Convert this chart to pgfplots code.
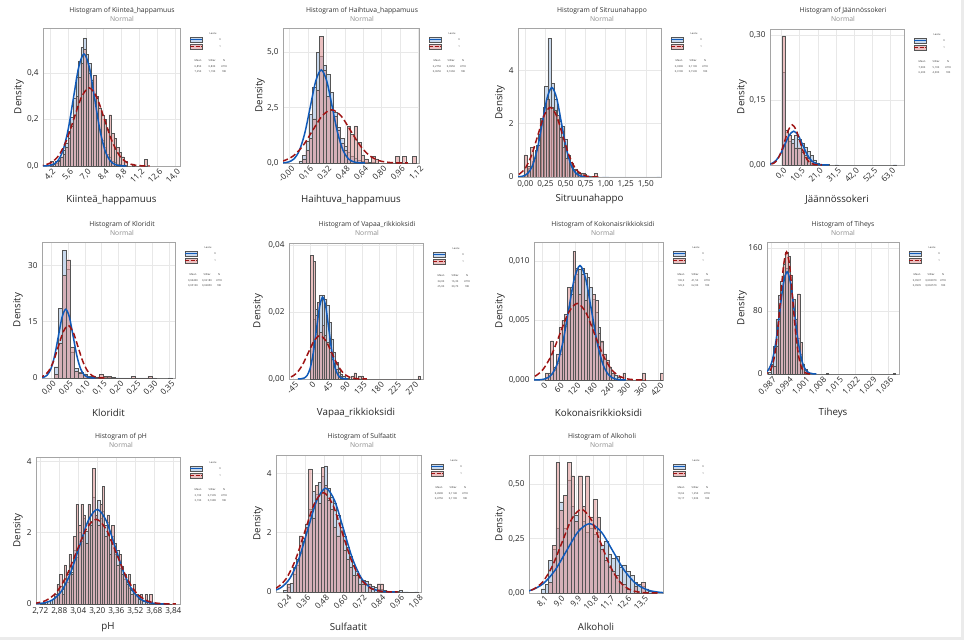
\documentclass[border=0pt]{standalone}
\usepackage{pgfplots}
\pgfplotsset{compat=1.18}
\usepackage{fontspec}
\setmainfont{Open Sans}
\definecolor{barblue}{RGB}{200,216,236}
\definecolor{barred}{RGB}{222,150,150}
\definecolor{baredge}{RGB}{85,85,85}
\definecolor{curveblue}{RGB}{16,90,185}
\definecolor{curvered}{RGB}{160,20,20}
\definecolor{gridc}{RGB}{232,232,232}
\definecolor{framec}{RGB}{165,165,165}
\newcommand\titlef{\fontsize{6.8}{7.5}\selectfont}
\newcommand\tickf{\fontsize{8.2}{9}\selectfont}
\newcommand\labf{\fontsize{9.8}{11}\selectfont}
\newcommand\legf{\fontsize{2.6}{3}\selectfont}
\pgfplotsset{
 hist/.style={scale only axis, anchor=north west, grid=major,
   grid style={draw=gridc, line width=0.5bp},
   axis line style={draw=framec, line width=0.7bp},
   major tick length=0pt, ymin=0, scaled y ticks=false, scaled x ticks=false,
   tick label style={font=\tickf, text=black!85},
   /pgf/number format/assume math mode=true,
   yticklabel style={xshift=-1bp}},
 rot/.style={xticklabel style={rotate=45, anchor=north east, inner sep=0.5bp, yshift=-2bp}},
 bblue/.style={ybar interval, fill=barblue, draw=baredge, line width=0.3bp},
 bred/.style={ybar interval, fill=barred, fill opacity=0.6, draw=baredge, line width=0.3bp},
 cblue/.style={smooth, draw=curveblue, line width=1.5bp},
 cred/.style={smooth, draw=curvered, line width=1.5bp, dash pattern=on 6bp off 3bp},
}
\newcommand\ptitle[3]{%
 \node[font=\titlef, text=black!80] at (#1bp,-#2bp) {Histogram of #3};
 \node[font=\titlef, text=black!45] at (#1bp,-#2bp-8bp) {Normal};}
\newcommand\plab[5]{%
 \node[font=\labf, text=black!85] at (#1bp,-#2bp) {#3};
 \node[font=\labf, text=black!85, rotate=90] at (#4bp,-#5bp) {Density};}
\newcommand\leg[8]{%
 \begin{scope}[shift={(#1bp,-#2bp)}, x=1bp, y=-1bp, every node/.style={font=\legf, text=black!80, inner sep=0pt}]
 \node at (33,6) {Laatu};
 \fill[barblue] (10,9) rectangle (22,14);
 \draw[baredge, line width=0.3bp] (10,9) rectangle (22,14);
 \draw[curveblue, line width=1bp] (10,11.5) -- (22,11.5);
 \fill[barred!60] (10,16) rectangle (22,21);
 \draw[baredge, line width=0.3bp] (10,16) rectangle (22,21);
 \draw[curvered, line width=1bp, dash pattern=on 4bp off 1.5bp] (10,18.5) -- (22,18.5);
 \node at (40,11.5) {0}; \node at (40,18.5) {1};
 \node at (18,33) {Mean}; \node at (32,33) {StDev}; \node at (44,33) {N};
 \node at (18,39) {#3}; \node at (32,39) {#4}; \node at (44,39) {#5};
 \node at (18,44) {#6}; \node at (32,44) {#7}; \node at (44,44) {#8};
 \end{scope}}
\begin{document}
\begin{tikzpicture}
\path[use as bounding box] (0,0) rectangle (964bp,-640bp);
\fill[white] (0,0) rectangle (964bp,-640bp);
\fill[black!8] (961bp,0) rectangle (964bp,-640bp);
\fill[black!8] (0,-637bp) rectangle (964bp,-640bp);

% ---------- P1 ----------
\begin{axis}[hist, rot, at={(43bp,-28bp)}, width=137bp, height=138bp,
 xmin=3.63, xmax=14.39, ymax=0.592,
 xtick={4.2,5.6,7.0,8.4,9.8,11.2,12.6,14.0},
 xticklabels={{4,2},{5,6},{7,0},{8,4},{9,8},{11,2},{12,6},{14,0}},
 ytick={0,0.2,0.4}, yticklabels={{0,0},{0,2},{0,4}}]
\addplot[bblue] coordinates {(4.2,0.005)(4.4,0.01)(4.6,0.012)(4.8,0.025)(5.0,0.04)(5.2,0.07)(5.4,0.10)(5.6,0.15)(5.8,0.21)(6.0,0.29)(6.2,0.38)(6.4,0.45)(6.6,0.51)(6.8,0.55)(7.0,0.48)(7.2,0.44)(7.4,0.37)(7.6,0.30)(7.8,0.22)(8.0,0.16)(8.2,0.11)(8.4,0.08)(8.6,0.05)(8.8,0.04)(9.0,0.02)(9.2,0.015)(9.4,0.01)(9.6,0.006)(9.8,0.004)(10.0,0.003)(10.2,0)};
\addplot[bred] coordinates {(4.2,0.02)(4.4,0)(4.6,0.02)(4.8,0.02)(5.0,0.04)(5.2,0.05)(5.4,0.08)(5.6,0.12)(5.8,0.17)(6.0,0.22)(6.2,0.3)(6.4,0.38)(6.6,0.44)(6.8,0.5)(7.0,0.46)(7.2,0.4)(7.4,0.36)(7.6,0.39)(7.8,0.3)(8.0,0.25)(8.2,0.22)(8.4,0.2)(8.6,0.16)(8.8,0.22)(9.0,0.14)(9.2,0.12)(9.4,0.08)(9.6,0.06)(9.8,0.04)(10.0,0.02)(10.2,0)(10.6,0.01)(10.8,0)(11.6,0.03)(11.8,0)};
\addplot[cblue] coordinates {(3.53,0.00014)(3.945,0.00106)(4.36,0.00534)(4.775,0.0211)(5.19,0.065)(5.605,0.1561)(6.02,0.2915)(6.435,0.4242)(6.85,0.4807)(7.265,0.4242)(7.68,0.2915)(8.095,0.1561)(8.51,0.065)(8.925,0.0211)(9.34,0.00534)(9.755,0.00106)(10.17,0.00014)};
\addplot[cred] coordinates {(2.49,0.0001)(3.085,0.00074)(3.68,0.00372)(4.275,0.01472)(4.87,0.04535)(5.465,0.1088)(6.06,0.2033)(6.655,0.2958)(7.25,0.3352)(7.845,0.2958)(8.44,0.2033)(9.035,0.1088)(9.63,0.04535)(10.225,0.01472)(10.82,0.00372)(11.415,0.00074)(12.01,0.0001)};
\end{axis}
\ptitle{122}{11}{Kiinteä\_happamuus}
\plab{111.5}{200}{Kiinteä\_happamuus}{19}{97}
\leg{180}{28}{6,850}{0,830}{4718}{7,250}{1,190}{180}

% ---------- P2 ----------
\begin{axis}[hist, rot, at={(283bp,-28bp)}, width=136bp, height=135bp,
 xmin=-0.058, xmax=1.126, ymax=6.09,
 xtick={0,0.16,0.32,0.48,0.64,0.80,0.96,1.12},
 xticklabels={{-0,00},{0,16},{0,32},{0,48},{0,64},{0,80},{0,96},{1,12}},
 ytick={0,2.5,5}, yticklabels={{0,0},{2,5},{5,0}}]
\addplot[bblue] coordinates {(0.08,0.1)(0.11,0.35)(0.14,1.0)(0.17,2.2)(0.20,3.4)(0.23,5.0)(0.26,4.8)(0.29,4.4)(0.32,4.0)(0.35,3.2)(0.38,2.3)(0.41,1.6)(0.44,1.1)(0.47,0.75)(0.50,0.5)(0.53,0.32)(0.56,0.2)(0.59,0.12)(0.62,0.08)(0.65,0.05)(0.68,0.03)(0.71,0.02)(0.74,0.01)(0.77,0)};
\addplot[bred] coordinates {(0.11,0.19)(0.14,0.56)(0.17,1.1)(0.20,2.0)(0.23,3.3)(0.26,5.7)(0.29,4.2)(0.32,3.0)(0.35,2.4)(0.38,2.1)(0.41,1.5)(0.44,0.9)(0.47,0.56)(0.50,1.67)(0.53,1.3)(0.56,1.67)(0.59,0.93)(0.62,0.37)(0.65,0.19)(0.68,0)(0.71,0.3)(0.74,0.19)(0.77,0)(0.92,0.3)(0.95,0)(0.98,0.3)(1.01,0)(1.07,0.3)(1.10,0)};
\addplot[cblue] coordinates {(-0.105,0.0013)(-0.0575,0.0092)(-0.01,0.0466)(0.0375,0.1843)(0.085,0.5681)(0.1325,1.3634)(0.18,2.5467)(0.2275,3.7056)(0.275,4.199)(0.3225,3.7056)(0.37,2.5467)(0.4175,1.3634)(0.465,0.5681)(0.5125,0.1843)(0.56,0.0466)(0.6075,0.0092)(0.655,0.0013)};
\addplot[cred] coordinates {(-0.299,0.0007)(-0.216,0.0053)(-0.133,0.0267)(-0.05,0.1055)(0.033,0.3251)(0.116,0.7803)(0.199,1.4574)(0.282,2.1206)(0.365,2.403)(0.448,2.1206)(0.531,1.4574)(0.614,0.7803)(0.697,0.3251)(0.78,0.1055)(0.863,0.0267)(0.946,0.0053)(1.029,0.0007)};
\end{axis}
\ptitle{362}{11}{Haihtuva\_happamuus}
\plab{351}{200}{Haihtuva\_happamuus}{260}{95.5}
\leg{419}{28}{0,2750}{0,0950}{4718}{0,3650}{0,1660}{180}

% ---------- P3 ----------
\begin{axis}[hist, at={(518bp,-28bp)}, width=143bp, height=149bp,
 xmin=-0.092, xmax=1.69, ymax=5.58,
 xtick={0,0.25,0.5,0.75,1.0,1.25,1.5},
 xticklabels={{0,00},{0,25},{0,50},{0,75},{1,00},{1,25},{1,50}},
 ytick={0,2,4}, yticklabels={0,2,4}]
\addplot[bblue] coordinates {(0.00,0.1)(0.04,0.35)(0.08,0.6)(0.12,1.0)(0.16,1.6)(0.20,2.2)(0.24,3.4)(0.28,5.2)(0.32,3.5)(0.36,2.9)(0.40,2.1)(0.44,1.9)(0.48,1.4)(0.52,0.8)(0.56,0.5)(0.60,0.3)(0.64,0.2)(0.68,0.15)(0.72,0.12)(0.76,0.05)(0.80,0.03)(0.84,0.02)(0.88,0.01)(0.92,0)(0.96,0.01)(1.00,0.01)(1.04,0)(1.64,0.01)(1.68,0)};
\addplot[bred] coordinates {(-0.02,0.83)(0.02,0.42)(0.06,1.1)(0.10,0.7)(0.14,1.2)(0.18,2.2)(0.22,2.6)(0.26,2.9)(0.30,2.6)(0.34,2.5)(0.38,2.3)(0.42,1.5)(0.46,1.1)(0.50,0.7)(0.54,0.56)(0.58,0.28)(0.62,0.14)(0.66,0.14)(0.70,0.14)(0.74,0)(0.86,0.14)(0.90,0)};
\addplot[cblue] coordinates {(-0.146,0.001)(-0.0865,0.0074)(-0.027,0.0372)(0.0325,0.1472)(0.092,0.4535)(0.1515,1.0884)(0.211,2.033)(0.2705,2.9581)(0.33,3.352)(0.3895,2.9581)(0.449,2.033)(0.5085,1.0884)(0.568,0.4535)(0.6275,0.1472)(0.687,0.0372)(0.7465,0.0074)(0.806,0.001)};
\addplot[cred] coordinates {(-0.302,0.0008)(-0.2255,0.0057)(-0.149,0.0289)(-0.0725,0.1144)(0.004,0.3527)(0.0805,0.8465)(0.157,1.5811)(0.2335,2.3007)(0.31,2.607)(0.3865,2.3007)(0.463,1.5811)(0.5395,0.8465)(0.616,0.3527)(0.6925,0.1144)(0.769,0.0289)(0.8455,0.0057)(0.922,0.0008)};
\end{axis}
\ptitle{602}{11}{Sitruunahappo}
\plab{589.5}{199}{Sitruunahappo}{500}{102.5}
\leg{661}{28}{0,3300}{0,1190}{4718}{0,3100}{0,1530}{180}

% ---------- P4 ----------
\begin{axis}[hist, rot, at={(770bp,-29bp)}, width=134bp, height=136bp,
 xmin=-6.7, xmax=70.9, ymax=0.3147,
 xtick={0,10.5,21,31.5,42,52.5,63},
 xticklabels={{0,0},{10,5},{21,0},{31,5},{42,0},{52,5},{63,0}},
 ytick={0,0.15,0.30}, yticklabels={{0,00},{0,15},{0,30}}]
\addplot[bblue] coordinates {(0.3,0.215)(2.1,0.06)(3.9,0.055)(5.7,0.06)(7.5,0.068)(9.3,0.06)(11.1,0.05)(12.9,0.042)(14.7,0.032)(16.5,0.022)(18.3,0.012)(20.1,0.005)(21.9,0.002)(23.7,0.001)(25.5,0.001)(27.3,0)(30.9,0.0006)(32.7,0)(64.8,0.0006)(66.6,0)};
\addplot[bred] coordinates {(0.3,0.298)(2.1,0.08)(3.9,0.07)(5.7,0.05)(7.5,0.04)(9.3,0.04)(11.1,0.03)(12.9,0.022)(14.7,0.015)(16.5,0.01)(18.3,0.006)(20.1,0)};
\addplot[cblue] coordinates {(-13.4,0.00002)(-10.85,0.00017)(-8.3,0.00087)(-5.75,0.00343)(-3.2,0.01058)(-0.65,0.0254)(1.9,0.04744)(4.45,0.06903)(7.0,0.07822)(9.55,0.06903)(12.1,0.04744)(14.65,0.0254)(17.2,0.01058)(19.75,0.00343)(22.3,0.00087)(24.85,0.00017)(27.4,0.00002)};
\addplot[cred] coordinates {(-11.0,0.00003)(-8.85,0.0002)(-6.7,0.00103)(-4.55,0.00407)(-2.4,0.01255)(-0.25,0.03013)(1.9,0.05627)(4.05,0.08188)(6.2,0.09278)(8.35,0.08188)(10.5,0.05627)(12.65,0.03013)(14.8,0.01255)(16.95,0.00407)(19.1,0.00103)(21.25,0.0002)(23.4,0.00003)};
\end{axis}
\ptitle{843}{11}{Jäännössokeri}
\plab{837}{200}{Jäännössokeri}{742}{97}
\leg{904}{29}{7,000}{5,100}{4718}{6,200}{4,300}{180}

% ---------- P5 ----------
\begin{axis}[hist, rot, at={(42bp,-242bp)}, width=133bp, height=136bp,
 xmin=-0.026, xmax=0.366, ymax=36.2,
 xtick={0,0.05,0.1,0.15,0.2,0.25,0.3,0.35},
 xticklabels={{0,00},{0,05},{0,10},{0,15},{0,20},{0,25},{0,30},{0,35}},
 ytick={0,15,30}, yticklabels={0,15,30}]
\addplot[bblue] coordinates {(0.010,3.0)(0.022,18.5)(0.034,34)(0.046,29)(0.058,7)(0.070,2.5)(0.082,1.5)(0.094,0.8)(0.106,0.5)(0.118,0.35)(0.130,0.3)(0.142,0.2)(0.154,0.2)(0.166,0.15)(0.178,0.1)(0.190,0.08)(0.202,0.06)(0.214,0.04)(0.226,0.03)(0.238,0.03)(0.250,0.02)(0.262,0.01)(0.274,0.01)(0.286,0.01)(0.298,0.01)(0.310,0)(0.346,0.01)(0.358,0)};
\addplot[bred] coordinates {(0.010,0.93)(0.022,9.3)(0.034,27.3)(0.046,31.5)(0.058,8.3)(0.070,1.85)(0.082,1.4)(0.094,0.93)(0.106,0.46)(0.118,0.46)(0.130,0)(0.142,0.93)(0.154,0.46)(0.166,0.46)(0.178,0)(0.238,0.46)(0.250,0)(0.286,0.46)(0.298,0)};
\addplot[cblue] coordinates {(-0.0432,0.0055)(-0.0323,0.0403)(-0.0214,0.2031)(-0.0105,0.8034)(0.0004,2.476)(0.0113,5.942)(0.0222,11.10)(0.0331,16.15)(0.044,18.30)(0.0549,16.15)(0.0658,11.10)(0.0767,5.942)(0.0876,2.476)(0.0985,0.8034)(0.1094,0.2031)(0.1203,0.0403)(0.1312,0.0055)};
\addplot[cred] coordinates {(-0.063,0.0042)(-0.04875,0.0308)(-0.0345,0.1554)(-0.02025,0.6146)(-0.006,1.894)(0.00825,4.546)(0.0225,8.491)(0.03675,12.355)(0.051,14.0)(0.06525,12.355)(0.0795,8.491)(0.09375,4.546)(0.108,1.894)(0.12225,0.6146)(0.1365,0.1554)(0.15075,0.0308)(0.165,0.0042)};
\end{axis}
\ptitle{122}{225}{Kloridit}
\plab{108.5}{413}{Kloridit}{18}{310}
\leg{175}{242}{0,04400}{0,02180}{4718}{0,05100}{0,02850}{180}

% ---------- P6 ----------
\begin{axis}[hist, rot, at={(289bp,-243bp)}, width=134bp, height=136bp,
 xmin=-56.4, xmax=295.4, ymax=0.0407,
 xtick={-45,0,45,90,135,180,225,270},
 xticklabels={-45,0,45,90,135,180,225,270},
 ytick={0,0.02,0.04}, yticklabels={{0,00},{0,02},{0,04}}]
\addplot[bblue] coordinates {(0,0.010)(6,0.018)(12,0.021)(18,0.023)(24,0.025)(30,0.025)(36,0.024)(42,0.022)(48,0.017)(54,0.012)(60,0.008)(66,0.005)(72,0.003)(78,0.0015)(84,0.0008)(90,0.0004)(96,0.0002)(102,0.0001)(108,0)};
\addplot[bred] coordinates {(0,0.037)(6,0.0352)(12,0.019)(18,0.023)(24,0.014)(30,0.016)(36,0.013)(42,0.011)(48,0.008)(54,0.006)(60,0.004)(66,0.003)(72,0.002)(78,0.0009)(84,0)(108,0.0009)(114,0.0019)(120,0)(126,0.0009)(132,0.0009)(138,0)(282,0.0009)(288,0)};
\addplot[cblue] coordinates {(-33.2,0.000007)(-25.05,0.000054)(-16.9,0.000272)(-8.75,0.001074)(-0.6,0.003311)(7.55,0.007945)(15.7,0.01484)(23.85,0.02159)(32,0.02447)(40.15,0.02159)(48.3,0.01484)(56.45,0.007945)(64.6,0.003311)(72.75,0.001074)(80.9,0.000272)(89.05,0.000054)(97.2,0.000007)};
\addplot[cred] coordinates {(-97.8,0.000004)(-82.45,0.000029)(-67.1,0.000144)(-51.75,0.00057)(-36.4,0.001758)(-21.05,0.004218)(-5.7,0.00788)(9.65,0.01146)(25,0.01299)(40.35,0.01146)(55.7,0.00788)(71.05,0.004218)(86.4,0.001758)(101.75,0.00057)(117.1,0.000144)(132.45,0.000029)(147.8,0.000004)};
\end{axis}
\ptitle{367}{225}{Vapaa\_rikkioksidi}
\plab{356}{413}{Vapaa\_rikkioksidi}{258}{311}
\leg{423}{243}{34,00}{16,30}{4718}{25,00}{30,70}{180}

% ---------- P7 ----------
\begin{axis}[hist, rot, at={(534bp,-242bp)}, width=129bp, height=138bp,
 xmin=-30, xmax=435.6, ymax=0.01159,
 xtick={0,60,120,180,240,300,360,420},
 xticklabels={0,60,120,180,240,300,360,420},
 ytick={0,0.005,0.010}, yticklabels={{0,000},{0,005},{0,010}}]
\addplot[bblue] coordinates {(10,0.0002)(20,0.0003)(30,0.0005)(40,0.0008)(50,0.0014)(60,0.0022)(70,0.0032)(80,0.0045)(90,0.006)(100,0.0078)(110,0.0082)(120,0.0089)(130,0.0093)(140,0.0094)(150,0.0090)(160,0.0086)(170,0.0078)(180,0.0068)(190,0.0057)(200,0.0044)(210,0.0032)(220,0.0022)(230,0.0015)(240,0.001)(250,0.0006)(260,0.0004)(270,0.0002)(280,0.0001)(290,0.0001)(300,0)};
\addplot[bred] coordinates {(10,0.0006)(20,0.0006)(30,0.0033)(40,0.0011)(50,0.0022)(60,0.0044)(70,0.005)(80,0.0055)(90,0.0078)(100,0.0072)(110,0.0108)(120,0.0094)(130,0.0072)(140,0.0089)(150,0.0067)(160,0.0072)(170,0.0061)(180,0.0072)(190,0.0067)(200,0.0039)(210,0.0033)(220,0.0022)(230,0.0017)(240,0.0011)(250,0.0006)(260,0)(290,0.0006)(300,0)(360,0.0006)(370,0)(425,0.0006)(435,0)};
\addplot[cblue] coordinates {(-30,0.000003)(-9.25,0.000021)(11.5,0.000107)(32.25,0.000422)(53,0.001301)(73.75,0.003121)(94.5,0.00583)(115.25,0.008483)(136,0.009613)(156.75,0.008483)(177.5,0.00583)(198.25,0.003121)(219,0.001301)(239.75,0.000422)(260.5,0.000107)(281.25,0.000021)(302,0.000003)};
\addplot[cred] coordinates {(-122,0.000002)(-91,0.0000142)(-60,0.0000714)(-29,0.000282)(2,0.000871)(33,0.002089)(64,0.003902)(95,0.005678)(126,0.006434)(157,0.005678)(188,0.003902)(219,0.002089)(250,0.000871)(281,0.000282)(312,0.0000714)(343,0.0000142)(374,0.000002)};
\end{axis}
\ptitle{603}{225}{Kokonaisrikkioksidi}
\plab{598.5}{413}{Kokonaisrikkioksidi}{500}{311}
\leg{663}{242}{136,0}{41,50}{4718}{126,0}{62,00}{180}

% ---------- P8 ----------
\begin{axis}[hist, rot, at={(767bp,-242bp)}, width=132bp, height=132bp,
 xmin=0.98533, xmax=1.04044, ymax=167.7,
 xtick={0.987,0.994,1.001,1.008,1.015,1.022,1.029,1.036},
 xticklabels={{0,987},{0,994},{1,001},{1,008},{1,015},{1,022},{1,029},{1,036}},
 ytick={0,80,160}, yticklabels={0,80,160}]
\addplot[bblue] coordinates {(0.986,2)(0.987,12)(0.988,35)(0.989,70)(0.990,100)(0.991,118)(0.992,126)(0.993,134)(0.994,130)(0.995,115)(0.996,95)(0.997,70)(0.998,45)(0.999,25)(1.000,12)(1.001,5)(1.002,2)(1.003,0)(1.010,0.5)(1.011,0)(1.038,0.5)(1.039,0)};
\addplot[bred] coordinates {(0.988,10)(0.989,35)(0.990,70)(0.991,110)(0.992,140)(0.993,155)(0.994,150)(0.995,125)(0.996,95)(0.997,70)(0.998,102)(0.999,40)(1.000,12)(1.001,5.6)(1.002,0)};
\addplot[cblue] coordinates {(0.98142,0.039)(0.982955,0.286)(0.98449,1.442)(0.986025,5.703)(0.98756,17.58)(0.989095,42.18)(0.99063,78.8)(0.992165,114.6)(0.9937,129.9)(0.995235,114.6)(0.99677,78.8)(0.998305,42.18)(0.99984,17.58)(1.001375,5.703)(1.00291,1.442)(1.004445,0.286)(1.00598,0.039)};
\addplot[cred] coordinates {(0.98322,0.047)(0.984505,0.341)(0.98579,1.723)(0.987075,6.813)(0.98836,21.0)(0.989645,50.39)(0.99093,94.13)(0.992215,137.0)(0.9935,155.2)(0.994785,137.0)(0.99607,94.13)(0.997355,50.39)(0.99864,21.0)(0.999925,6.813)(1.00121,1.723)(1.002495,0.341)(1.00378,0.047)};
\end{axis}
\ptitle{843}{225}{Tiheys}
\plab{833}{413}{Tiheys}{742}{308}
\leg{899}{242}{0,9937}{0,003070}{4718}{0,9935}{0,002570}{180}

% ---------- P9 ----------
\begin{axis}[hist, at={(36bp,-457bp)}, width=144bp, height=147bp,
 xmin=2.6836, xmax=3.896, ymax=4.12,
 xtick={2.72,2.88,3.04,3.20,3.36,3.52,3.68,3.84},
 xticklabels={{2,72},{2,88},{3,04},{3,20},{3,36},{3,52},{3,68},{3,84}},
 ytick={0,2,4}, yticklabels={0,2,4}]
\addplot[bblue] coordinates {(2.72,0.02)(2.74,0.03)(2.76,0.05)(2.78,0.08)(2.80,0.12)(2.82,0.15)(2.84,0.22)(2.86,0.3)(2.88,0.5)(2.90,0.42)(2.92,0.7)(2.94,0.62)(2.96,1.1)(2.98,0.9)(3.00,1.5)(3.02,1.3)(3.04,2.0)(3.06,1.75)(3.08,2.4)(3.10,2.05)(3.12,2.8)(3.14,2.3)(3.16,3.0)(3.18,2.5)(3.20,2.9)(3.22,2.4)(3.24,2.6)(3.26,2.2)(3.28,2.3)(3.30,1.8)(3.32,1.9)(3.34,1.4)(3.36,1.5)(3.38,1.0)(3.40,1.05)(3.42,0.7)(3.44,0.62)(3.46,0.45)(3.48,0.4)(3.50,0.3)(3.52,0.25)(3.54,0.15)(3.56,0.12)(3.58,0.08)(3.60,0.06)(3.62,0.04)(3.64,0.03)(3.66,0.02)(3.68,0.02)(3.70,0.01)(3.72,0.01)(3.74,0.005)(3.76,0.005)(3.78,0.005)(3.80,0.005)(3.82,0)};
\addplot[bred] coordinates {(2.84,0.28)(2.86,0.56)(2.88,0.83)(2.90,0.28)(2.92,1.1)(2.94,0.83)(2.96,1.4)(2.98,0.83)(3.00,1.9)(3.02,2.8)(3.04,2.2)(3.06,2.8)(3.08,2.5)(3.10,1.7)(3.12,2.8)(3.14,2.2)(3.16,3.8)(3.18,2.5)(3.20,2.2)(3.22,2.8)(3.24,3.3)(3.26,1.9)(3.28,2.5)(3.30,1.4)(3.32,2.2)(3.34,1.7)(3.36,1.1)(3.38,1.4)(3.40,0.83)(3.42,0.83)(3.44,0.56)(3.46,0.83)(3.48,0.28)(3.50,0.56)(3.52,0.28)(3.54,0)(3.56,0.28)(3.58,0)(3.60,0.28)(3.62,0)(3.64,0.28)(3.66,0)};
\addplot[cblue] coordinates {(2.597,0.0008)(2.67225,0.0058)(2.7475,0.0294)(2.82275,0.1164)(2.898,0.3587)(2.97325,0.8608)(3.0485,1.6078)(3.12375,2.3395)(3.199,2.651)(3.27425,2.3395)(3.3495,1.6078)(3.42475,0.8608)(3.5,0.3587)(3.57525,0.1164)(3.6505,0.0294)(3.72575,0.0058)(3.801,0.0008)};
\addplot[cred] coordinates {(2.518,0.0007)(2.602,0.0052)(2.686,0.0264)(2.77,0.1042)(2.854,0.3213)(2.938,0.771)(3.022,1.4402)(3.106,2.0956)(3.19,2.3746)(3.274,2.0956)(3.358,1.4402)(3.442,0.771)(3.526,0.3213)(3.61,0.1042)(3.694,0.0264)(3.778,0.0052)(3.862,0.0007)};
\end{axis}
\ptitle{121}{437}{pH}
\plab{108}{627}{pH}{18}{530.5}
\leg{180}{457}{3,199}{0,1505}{4718}{3,190}{0,1680}{180}

% ---------- P10 ----------
\begin{axis}[hist, rot, at={(276bp,-455bp)}, width=145bp, height=137bp,
 xmin=0.1715, xmax=1.101, ymax=4.62,
 xtick={0.24,0.36,0.48,0.60,0.72,0.84,0.96,1.08},
 xticklabels={{0,24},{0,36},{0,48},{0,60},{0,72},{0,84},{0,96},{1,08}},
 ytick={0,2,4}, yticklabels={0,2,4}]
\addplot[bblue] coordinates {(0.22,0.05)(0.24,0.15)(0.26,0.3)(0.28,0.6)(0.30,0.9)(0.32,1.3)(0.34,1.8)(0.36,2.3)(0.38,2.8)(0.40,3.4)(0.42,3.3)(0.44,3.7)(0.46,3.9)(0.48,4.25)(0.50,3.5)(0.52,3.2)(0.54,3.0)(0.56,2.6)(0.58,2.1)(0.60,1.9)(0.62,1.5)(0.64,1.2)(0.66,0.9)(0.68,0.7)(0.70,0.5)(0.72,0.4)(0.74,0.35)(0.76,0.28)(0.78,0.2)(0.80,0.15)(0.82,0.1)(0.84,0.08)(0.86,0.06)(0.88,0.04)(0.90,0.03)(0.92,0.02)(0.94,0.02)(0.96,0.05)(0.98,0.01)(1.00,0.01)(1.02,0)(1.06,0.01)(1.08,0)};
\addplot[bred] coordinates {(0.24,0.28)(0.26,0)(0.28,0.83)(0.30,1.1)(0.32,1.9)(0.34,1.7)(0.36,2.2)(0.38,4.15)(0.40,2.5)(0.42,3.6)(0.44,3.0)(0.46,4.2)(0.48,3.6)(0.50,3.1)(0.52,2.8)(0.54,2.2)(0.56,1.9)(0.58,2.2)(0.60,1.4)(0.62,1.1)(0.64,0.83)(0.66,0.56)(0.68,0.56)(0.70,0.28)(0.72,0.28)(0.74,0)(0.76,0.28)(0.78,0)(0.82,0.28)(0.84,0.28)(0.86,0)};
\addplot[cblue] coordinates {(0.034,0.001)(0.091,0.0077)(0.148,0.0388)(0.205,0.1536)(0.262,0.4735)(0.319,1.1363)(0.376,2.1224)(0.433,3.0883)(0.49,3.4995)(0.547,3.0883)(0.604,2.1224)(0.661,1.1363)(0.718,0.4735)(0.775,0.1536)(0.832,0.0388)(0.889,0.0077)(0.946,0.001)};
\addplot[cred] coordinates {(-0.001,0.001)(0.0585,0.0074)(0.118,0.0372)(0.1775,0.1472)(0.237,0.4535)(0.2965,1.0884)(0.356,2.033)(0.4155,2.9581)(0.475,3.352)(0.5345,2.9581)(0.594,2.033)(0.6535,1.0884)(0.713,0.4535)(0.7725,0.1472)(0.832,0.0372)(0.8915,0.0074)(0.951,0.001)};
\end{axis}
\ptitle{362}{437}{Sulfaatit}
\plab{348.5}{627}{Sulfaatit}{258}{523.5}
\leg{421}{455}{0,4900}{0,1140}{4718}{0,4750}{0,1190}{180}

% ---------- P11 ----------
\begin{axis}[hist, rot, at={(529bp,-455bp)}, width=134bp, height=138bp,
 xmin=7.35, xmax=14.58, ymax=0.635,
 xtick={8.1,9.0,9.9,10.8,11.7,12.6,13.5},
 xticklabels={{8,1},{9,0},{9,9},{10,8},{11,7},{12,6},{13,5}},
 ytick={0,0.25,0.5}, yticklabels={{0,00},{0,25},{0,50}}]
\addplot[bblue] coordinates {(8.0,0.02)(8.2,0.04)(8.4,0.15)(8.6,0.2)(8.8,0.3)(9.0,0.42)(9.2,0.3)(9.4,0.52)(9.6,0.4)(9.8,0.36)(10.0,0.3)(10.2,0.33)(10.4,0.28)(10.6,0.3)(10.8,0.27)(11.0,0.28)(11.2,0.22)(11.4,0.24)(11.6,0.18)(11.8,0.16)(12.0,0.17)(12.2,0.12)(12.4,0.13)(12.6,0.1)(12.8,0.08)(13.0,0.05)(13.2,0.04)(13.4,0.03)(13.6,0.02)(13.8,0.01)(14.0,0.005)(14.2,0)};
\addplot[bred] coordinates {(8.4,0.05)(8.6,0.22)(8.8,0.6)(9.0,0.38)(9.2,0.45)(9.4,0.6)(9.6,0.54)(9.8,0.33)(10.0,0.54)(10.2,0.4)(10.4,0.54)(10.6,0.35)(10.8,0.43)(11.0,0.35)(11.2,0.2)(11.4,0.15)(11.6,0.12)(11.8,0.1)(12.0,0.08)(12.2,0.05)(12.4,0.04)(12.6,0.02)(12.8,0)(13.0,0.03)(13.2,0)(13.4,0.05)(13.6,0)};
\addplot[cblue] coordinates {(5.62,0.0001)(6.245,0.0007)(6.87,0.00354)(7.495,0.01401)(8.12,0.04317)(8.745,0.1036)(9.37,0.1935)(9.995,0.2816)(10.62,0.3191)(11.245,0.2816)(11.87,0.1935)(12.495,0.1036)(13.12,0.04317)(13.745,0.01401)(14.37,0.00354)(14.995,0.0007)(15.62,0.0001)};
\addplot[cred] coordinates {(6.026,0.00012)(6.544,0.00085)(7.062,0.00427)(7.58,0.0169)(8.098,0.0521)(8.616,0.125)(9.134,0.2336)(9.652,0.3399)(10.17,0.3851)(10.688,0.3399)(11.206,0.2336)(11.724,0.125)(12.242,0.0521)(12.76,0.0169)(13.278,0.00427)(13.796,0.00085)(14.314,0.00012)};
\end{axis}
\ptitle{602}{437}{Alkoholi}
\plab{596}{627}{Alkoholi}{500}{524}
\leg{663}{455}{10,62}{1,250}{4718}{10,17}{1,036}{180}
\end{tikzpicture}
\end{document}
